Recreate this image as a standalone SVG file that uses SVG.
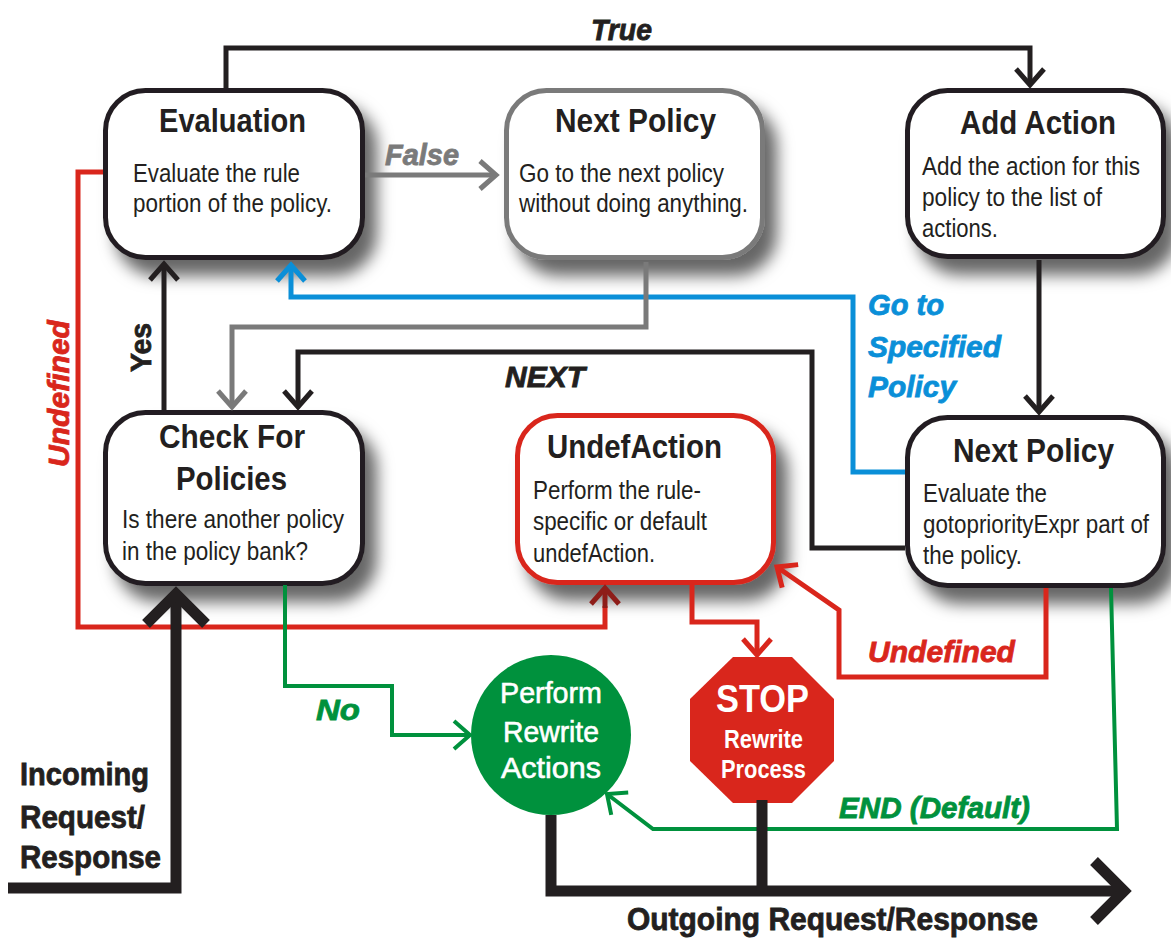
<svg xmlns="http://www.w3.org/2000/svg" width="1171" height="938" viewBox="0 0 1171 938">
<defs>
<style>
.box{fill:#fff;stroke:#231f20;stroke-width:5;filter:url(#sh)}
.t{font-family:"Liberation Sans",Arial,sans-serif;font-weight:bold;font-size:33px;fill:#231f20}
.b{font-family:"Liberation Sans",Arial,sans-serif;font-size:26px;fill:#231f20}
.lbl{font-family:"Liberation Sans",Arial,sans-serif;font-weight:bold;font-style:italic;font-size:30px;stroke-width:0.8}
.big{font-family:"Liberation Sans",Arial,sans-serif;font-weight:bold;font-size:32px;fill:#231f20;stroke:#231f20;stroke-width:0.8}
.c{fill:none;stroke-width:5;stroke-linejoin:miter}
.k{stroke:#231f20}
.g{stroke:#7a7a7a}
.bl{stroke:#0a8fd8}
.r{stroke:#d9261c}
.gr{stroke:#00913d;stroke-width:4}
.thick{fill:none;stroke:#231f20;stroke-width:11;stroke-linejoin:miter}
.w{font-family:"Liberation Sans",Arial,sans-serif;fill:#fff}
</style>
<filter id="sh" x="-20%" y="-20%" width="150%" height="160%">
<feDropShadow dx="12" dy="16" stdDeviation="8" flood-color="#000" flood-opacity="0.6"/>
</filter>
<marker id="mk" markerUnits="userSpaceOnUse" viewBox="-30 -30 40 60" markerWidth="40" markerHeight="60" refX="0" refY="0" orient="auto" overflow="visible"><path d="M-16,-14 L0,0 L-16,14" fill="none" stroke="#231f20" stroke-width="5"/></marker>
<marker id="mg" markerUnits="userSpaceOnUse" viewBox="-30 -30 40 60" markerWidth="40" markerHeight="60" refX="0" refY="0" orient="auto" overflow="visible"><path d="M-16,-14 L0,0 L-16,14" fill="none" stroke="#7a7a7a" stroke-width="5"/></marker>
<marker id="mb" markerUnits="userSpaceOnUse" viewBox="-30 -30 40 60" markerWidth="40" markerHeight="60" refX="0" refY="0" orient="auto" overflow="visible"><path d="M-16,-14 L0,0 L-16,14" fill="none" stroke="#0a8fd8" stroke-width="5"/></marker>
<marker id="mr" markerUnits="userSpaceOnUse" viewBox="-30 -30 40 60" markerWidth="40" markerHeight="60" refX="0" refY="0" orient="auto" overflow="visible"><path d="M-16,-14 L0,0 L-16,14" fill="none" stroke="#d9261c" stroke-width="5"/></marker>
<marker id="mdr" markerUnits="userSpaceOnUse" viewBox="-30 -30 40 60" markerWidth="40" markerHeight="60" refX="0" refY="0" orient="auto" overflow="visible"><path d="M-16,-14 L0,0 L-16,14" fill="none" stroke="#8e1d19" stroke-width="5"/></marker>
<marker id="mgr" markerUnits="userSpaceOnUse" viewBox="-30 -30 40 60" markerWidth="40" markerHeight="60" refX="0" refY="0" orient="auto" overflow="visible"><path d="M-16,-14 L0,0 L-16,14" fill="none" stroke="#00913d" stroke-width="4"/></marker>
<marker id="mK" markerUnits="userSpaceOnUse" viewBox="-50 -50 60 100" markerWidth="60" markerHeight="100" refX="0" refY="0" orient="auto" overflow="visible"><path d="M-32,-30 L-2,0 L-32,30" fill="none" stroke="#231f20" stroke-width="11"/></marker>
</defs>
<rect width="1171" height="938" fill="#fff"/>

<g id="evaluation">
<rect class="box" x="105.5" y="90.5" width="257" height="167" rx="40"/>
<text class="t" x="159" y="132" textLength="147" lengthAdjust="spacingAndGlyphs">Evaluation</text>
<text class="b" x="133" y="182" textLength="167" lengthAdjust="spacingAndGlyphs">Evaluate the rule</text>
<text class="b" x="133" y="212" textLength="199" lengthAdjust="spacingAndGlyphs">portion of the policy.</text>
</g>
<g id="next-policy-skip">
<rect class="box" x="506.5" y="90.5" width="256" height="167" rx="40" style="stroke:#7a7a7a"/>
<text class="t" x="555" y="132" textLength="161" lengthAdjust="spacingAndGlyphs">Next Policy</text>
<text class="b" x="519" y="182" textLength="205" lengthAdjust="spacingAndGlyphs">Go to the next policy</text>
<text class="b" x="519" y="212" textLength="229" lengthAdjust="spacingAndGlyphs">without doing anything.</text>
</g>
<g id="add-action">
<rect class="box" x="907.5" y="90.5" width="256" height="166" rx="40"/>
<text class="t" x="960" y="134" textLength="156" lengthAdjust="spacingAndGlyphs">Add Action</text>
<text class="b" transform="translate(922,175) scale(0.867,1)">Add the action for this</text>
<text class="b" x="922" y="206" textLength="180" lengthAdjust="spacingAndGlyphs">policy to the list of</text>
<text class="b" x="922" y="237" textLength="76" lengthAdjust="spacingAndGlyphs">actions.</text>
</g>
<g id="check-for-policies">
<rect class="box" x="105.5" y="412.5" width="257" height="171" rx="40"/>
<text class="t" x="159" y="448" textLength="146" lengthAdjust="spacingAndGlyphs">Check For</text>
<text class="t" x="176" y="490" textLength="111" lengthAdjust="spacingAndGlyphs">Policies</text>
<text class="b" x="122" y="528" textLength="222" lengthAdjust="spacingAndGlyphs">Is there another policy</text>
<text class="b" x="122" y="560" textLength="186" lengthAdjust="spacingAndGlyphs">in the policy bank?</text>
</g>
<g id="undef-action">
<rect class="box" x="517.5" y="415.5" width="256" height="167" rx="40" style="stroke:#d9261c"/>
<text class="t" x="547" y="458" textLength="175" lengthAdjust="spacingAndGlyphs">UndefAction</text>
<text class="b" x="533" y="499" textLength="168" lengthAdjust="spacingAndGlyphs">Perform the rule-</text>
<text class="b" x="533" y="530" textLength="174" lengthAdjust="spacingAndGlyphs">specific or default</text>
<text class="b" x="533" y="562" textLength="122" lengthAdjust="spacingAndGlyphs">undefAction.</text>
</g>
<g id="next-policy-goto">
<rect class="box" x="907.5" y="417.5" width="256" height="168" rx="40"/>
<text class="t" x="953" y="462" textLength="161" lengthAdjust="spacingAndGlyphs">Next Policy</text>
<text class="b" x="923" y="502" textLength="124" lengthAdjust="spacingAndGlyphs">Evaluate the</text>
<text class="b" transform="translate(923,533) scale(0.86,1)">gotopriorityExpr part of</text>
<text class="b" x="923" y="564" textLength="99" lengthAdjust="spacingAndGlyphs">the policy.</text>
</g>
<g id="perform-rewrite-actions">
<circle cx="551" cy="735" r="80" fill="#00913d"/>
<text class="w" x="500" y="703" font-size="30" stroke="#fff" stroke-width="0.6" textLength="102" lengthAdjust="spacingAndGlyphs">Perform</text>
<text class="w" x="503" y="742" font-size="30" stroke="#fff" stroke-width="0.6" textLength="96" lengthAdjust="spacingAndGlyphs">Rewrite</text>
<text class="w" x="501" y="778" font-size="30" stroke="#fff" stroke-width="0.6" textLength="100" lengthAdjust="spacingAndGlyphs">Actions</text>
</g>
<g id="stop-rewrite-process">
<polygon points="733,657 792,657 834,699 834,761 792,803 733,803 690,761 690,699" fill="#d9261c"/>
<text class="w" x="716" y="712" font-size="39" font-weight="bold" textLength="93" lengthAdjust="spacingAndGlyphs">STOP</text>
<text class="w" x="724" y="748" font-size="25" font-weight="bold" textLength="79" lengthAdjust="spacingAndGlyphs">Rewrite</text>
<text class="w" x="721" y="778" font-size="25" font-weight="bold" textLength="85" lengthAdjust="spacingAndGlyphs">Process</text>
</g>

<g id="connectors">
<path class="c k" d="M226,88 V48 H1030 V85" marker-end="url(#mk)"/>
<path class="c g" d="M365,175 H496" marker-end="url(#mg)"/>
<path class="c bl" d="M905,472 H853 V297 H291 V265" marker-end="url(#mb)"/>
<path class="c k" d="M164,410 V264" marker-end="url(#mk)"/>
<path class="c g" d="M646,262 V327 H232 V407" marker-end="url(#mg)"/>
<path class="c k" d="M905,548 H812 V352 H298 V407" marker-end="url(#mk)"/>
<path class="c k" d="M1039,260 V412" marker-end="url(#mk)"/>
<path class="c r" d="M103,172 H78 V627 H605 V606"/>
<path class="c" d="M605,608 V588" stroke="#8e1d19" marker-end="url(#mdr)"/>
<path class="c r" d="M692,585 V622 H757 V655" marker-end="url(#mr)"/>
<path class="c r" d="M1046,588 V677 H839 V610 L777,567" marker-end="url(#mr)"/>
<path class="c gr" d="M285,585 V686 H392 V735 H470" marker-end="url(#mgr)"/>
<path class="c gr" d="M1111,588 L1117,829 H653 L607,794" marker-end="url(#mgr)"/>
<path class="thick" d="M8,888 H176 V592" marker-end="url(#mK)"/>
<path class="thick" d="M551,815 V891 H1126" marker-end="url(#mK)"/>
<path class="thick" d="M762,800 V891"/>
<text class="lbl" x="591" y="40" fill="#231f20" stroke="#231f20" textLength="61" lengthAdjust="spacingAndGlyphs">True</text>
<text class="lbl" x="385" y="165" fill="#7a7a7a" stroke="#7a7a7a" textLength="74" lengthAdjust="spacingAndGlyphs">False</text>
<text class="lbl" transform="translate(151,372) rotate(-90)" fill="#231f20" stroke="#231f20" textLength="49" lengthAdjust="spacingAndGlyphs" style="font-style:normal">Yes</text>
<text class="lbl" transform="translate(69,467) rotate(-90)" fill="#d9261c" stroke="#d9261c" textLength="147" lengthAdjust="spacingAndGlyphs">Undefined</text>
<text class="lbl" x="505" y="387" fill="#231f20" stroke="#231f20" textLength="80" lengthAdjust="spacingAndGlyphs">NEXT</text>
<text class="lbl" x="868" y="315" fill="#0a8fd8" stroke="#0a8fd8" textLength="76" lengthAdjust="spacingAndGlyphs">Go to</text>
<text class="lbl" x="868" y="357" fill="#0a8fd8" stroke="#0a8fd8" textLength="133" lengthAdjust="spacingAndGlyphs">Specified</text>
<text class="lbl" x="868" y="397" fill="#0a8fd8" stroke="#0a8fd8" textLength="88" lengthAdjust="spacingAndGlyphs">Policy</text>
<text class="lbl" x="868" y="662" fill="#d9261c" stroke="#d9261c" textLength="147" lengthAdjust="spacingAndGlyphs">Undefined</text>
<text class="lbl" x="316" y="720" fill="#00913d" stroke="#00913d" textLength="44" lengthAdjust="spacingAndGlyphs">No</text>
<text class="lbl" x="839" y="818" fill="#00913d" stroke="#00913d" textLength="191" lengthAdjust="spacingAndGlyphs">END (Default)</text>
<text class="big" x="20" y="785" textLength="129" lengthAdjust="spacingAndGlyphs">Incoming</text>
<text class="big" x="20" y="828" textLength="125" lengthAdjust="spacingAndGlyphs">Request/</text>
<text class="big" x="20" y="868" textLength="141" lengthAdjust="spacingAndGlyphs">Response</text>
<text class="big" x="627" y="930" textLength="411" lengthAdjust="spacingAndGlyphs">Outgoing Request/Response</text>
</g>
</svg>
